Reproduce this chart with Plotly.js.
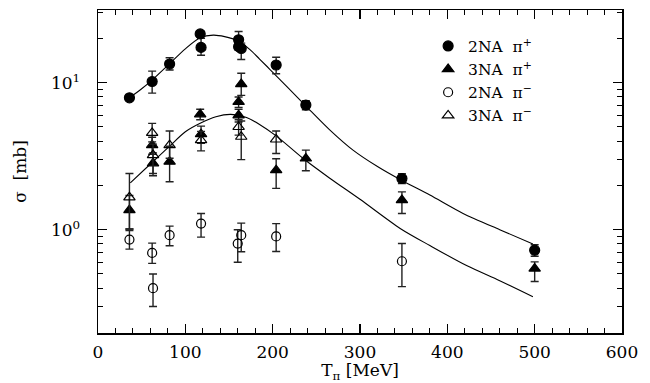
<!DOCTYPE html>
<html>
<head>
<meta charset="utf-8">
<script src="https://cdn.plot.ly/plotly-3.0.1.min.js"></script>
<style>html,body{margin:0;padding:0;background:#fff}#chart{width:650px;height:383px}</style>
</head>
<body>
<div id="chart"></div>
<script>
// Model curves
const curve2NA_x = [36, 50, 61, 81, 100, 117, 132, 145, 160, 174, 185, 197, 237, 265, 292, 320, 348, 380, 418, 460, 498];
const curve2NA_y = [7.9, 9.1, 10.3, 13.3, 17.0, 20.2, 21.1, 20.6, 19.3, 16.8, 14.5, 12.3, 7.05, 4.8, 3.48, 2.69, 2.16, 1.72, 1.29, 1.0, 0.80];
const curve3NA_x = [37, 60, 82, 100, 117, 135, 152, 170, 185, 204, 235, 265, 300, 346, 380, 422, 460, 498];
const curve3NA_y = [2.08, 2.8, 3.7, 4.64, 5.3, 5.87, 6.09, 5.8, 5.2, 4.35, 3.05, 2.25, 1.61, 1.02, 0.78, 0.57, 0.45, 0.35];

// 2NA pi+
const p2_x = [36, 62, 82, 117, 118, 161, 161, 164, 204, 238, 348, 500];
const p2_y = [7.9, 10.2, 13.4, 21.5, 17.4, 19.6, 17.6, 17.1, 13.2, 7.05, 2.23, 0.725];
const p2_ep = [0.3, 1.8, 1.4, 0.6, 2.7, 2.7, 1.0, 1.5, 1.7, 0.5, 0.17, 0.065];
const p2_em = [0.3, 1.7, 1.2, 0.6, 2.0, 1.5, 1.0, 2.7, 1.7, 0.5, 0.17, 0.065];
// 3NA pi+
const p3_x = [36, 62, 63, 82, 117, 118, 161, 161, 164, 204, 238, 348, 500];
const p3_y = [1.36, 3.76, 2.83, 2.9, 6.1, 4.47, 7.4, 6.0, 9.8, 2.54, 3.05, 1.59, 0.544];
const p3_ep = [0.35, 0.5, 0.5, 0.8, 0.5, 0.6, 0.6, 0.6, 1.8, 0.5, 0.43, 0.22, 0.06];
const p3_em = [0.35, 0.5, 0.5, 0.78, 0.5, 0.6, 0.6, 0.6, 1.6, 0.63, 0.53, 0.3, 0.1];
// 2NA pi-
const m2_x = [36, 62, 63, 82, 118, 160, 164, 204, 348];
const m2_y = [0.857, 0.695, 0.40, 0.918, 1.10, 0.805, 0.918, 0.90, 0.61];
const m2_ep = [0.13, 0.115, 0.10, 0.14, 0.19, 0.195, 0.19, 0.20, 0.195];
const m2_em = [0.12, 0.105, 0.10, 0.14, 0.21, 0.205, 0.21, 0.19, 0.20];
// 3NA pi-
const m3_x = [36, 62, 63, 82, 118, 161, 164, 204];
const m3_y = [1.66, 4.56, 3.22, 3.76, 4.07, 5.0, 4.29, 4.11];
const m3_ep = [0.75, 0.73, 0.6, 0.93, 0.6, 0.6, 1.2, 0.58];
const m3_em = [0.65, 0.6, 0.81, 0.7, 0.63, 0.6, 1.29, 0.81];

const legendNames = ['2NA  π<sup>+</sup>', '3NA  π<sup>+</sup>', '2NA  π<sup>−</sup>', '3NA  π<sup>−</sup>'];
const yMajor = [1, 10];
const yMajorText = ['10<sup>0</sup>', '10<sup>1</sup>'];
const yMinor = [0.2,0.3,0.4,0.5,0.6,0.7,0.8,0.9,2,3,4,5,6,7,8,9,20,30];

const FONT = 'DejaVu Serif, serif';
function err(ep, em) {
  return {type:'data', symmetric:false, array:ep, arrayminus:em, color:'#222', thickness:1.4, width:4};
}
function pts(x, y, ep, em, sym, name, size) {
  return {x:x, y:y, type:'scatter', mode:'markers', name:name,
    marker:{symbol:sym, size:size, color:'#000', line:{color:'#000', width:1.2}},
    error_y: err(ep, em)};
}
const traces = [
  {x:curve2NA_x, y:curve2NA_y, type:'scatter', mode:'lines', line:{color:'#000', width:1.1, shape:'spline', smoothing:0.8}, showlegend:false, hoverinfo:'skip'},
  {x:curve3NA_x, y:curve3NA_y, type:'scatter', mode:'lines', line:{color:'#000', width:1.1, shape:'spline', smoothing:0.8}, showlegend:false, hoverinfo:'skip'},
  pts(p2_x, p2_y, p2_ep, p2_em, 'circle', legendNames[0], 10),
  pts(p3_x, p3_y, p3_ep, p3_em, 'triangle-up', legendNames[1], 10),
  pts(m2_x, m2_y, m2_ep, m2_em, 'circle-open', legendNames[2], 9),
  pts(m3_x, m3_y, m3_ep, m3_em, 'triangle-up-open', legendNames[3], 10)
];
const layout = {
  width:650, height:383,
  margin:{l:98, r:28, t:10, b:50},
  paper_bgcolor:'#fff', plot_bgcolor:'#fff',
  font:{family:FONT, size:17, color:'#000'},
  showlegend:true,
  legend:{x:0.63, y:0.94, xanchor:'left', yanchor:'top', bgcolor:'rgba(0,0,0,0)', borderwidth:0,
    font:{family:FONT, size:15.5, color:'#000'}, itemwidth:30, tracegroupgap:0},
  xaxis:{range:[0,600], showgrid:false, zeroline:false, showline:true, linecolor:'#000', linewidth:1.5,
    mirror:'ticks', ticks:'inside', ticklen:9, tickwidth:1.2, tickcolor:'#000', dtick:100, tick0:0,
    minor:{dtick:20, tick0:0, ticks:'inside', ticklen:5, tickwidth:1, tickcolor:'#000'},
    tickfont:{family:FONT, size:17}, ticklabelstandoff:3,
    title:{text:'T<sub>π</sub> [MeV]', font:{family:FONT, size:17}, standoff:3}},
  yaxis:{type:'log', range:[-0.703, 1.495], showgrid:false, zeroline:false, showline:true, linecolor:'#000', linewidth:1.5,
    mirror:'ticks', ticks:'inside', ticklen:9, tickwidth:1.2, tickcolor:'#000',
    tickmode:'array', tickvals:yMajor, ticktext:yMajorText,
    minor:{tickmode:'array', tickvals:yMinor, ticks:'inside', ticklen:5, tickwidth:1, tickcolor:'#000'},
    tickfont:{family:FONT, size:17}, ticklabelstandoff:13,
    title:{text:'σ  [mb]', font:{family:FONT, size:17}, standoff:20}}
};
Plotly.newPlot('chart', traces, layout, {staticPlot:true, displayModeBar:false});
</script>
</body>
</html>
